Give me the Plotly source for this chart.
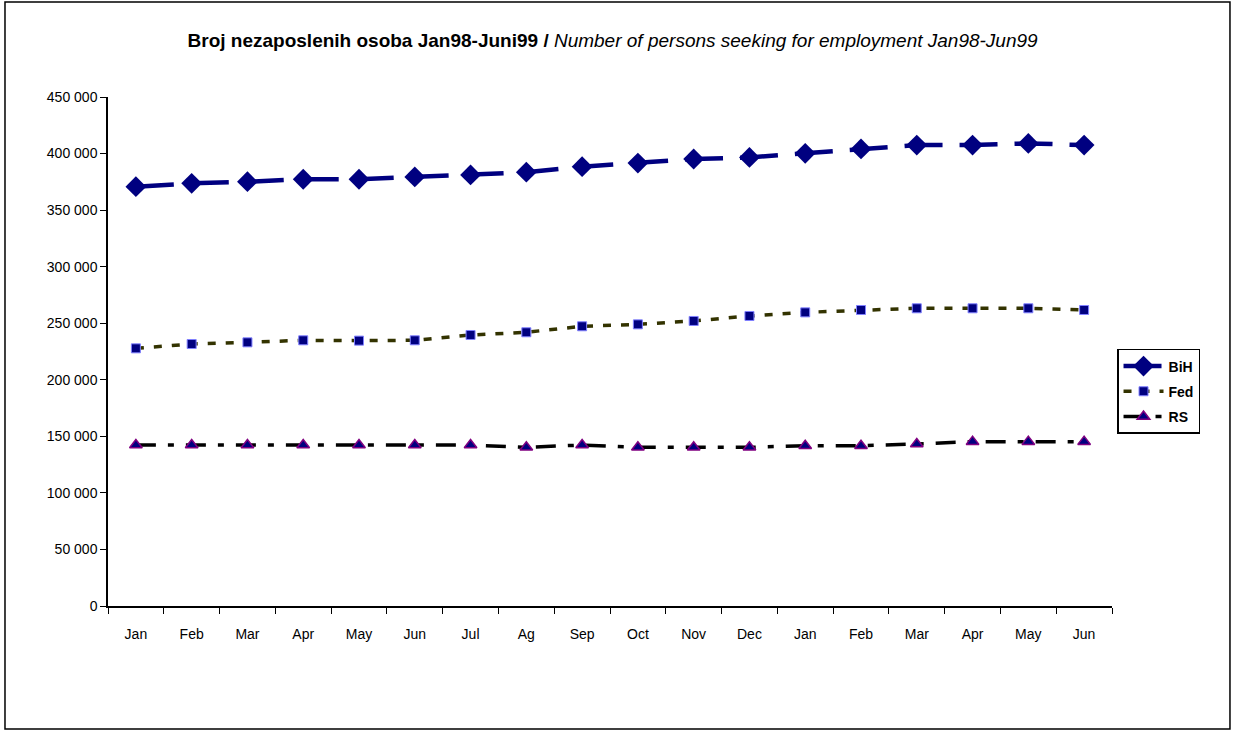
import plotly.graph_objects as go

months = ["Jan", "Feb", "Mar", "Apr", "May", "Jun", "Jul", "Ag", "Sep", "Oct", "Nov", "Dec",
          "Jan", "Feb", "Mar", "Apr", "May", "Jun"]
# unique category keys (two years share month names)
periods = [f"{m}_{i}" for i, m in enumerate(months)]

bih = [370700, 373700, 375100, 377300, 377300, 379300, 381100, 383500, 388400, 391600,
       395200, 396600, 400200, 404100, 407500, 407500, 409000, 407500]
fed = [227800, 231600, 233100, 234900, 234600, 234900, 239600, 242000, 247300, 249000,
       252000, 256400, 259600, 261700, 263200, 263200, 263200, 261700]
rs = [142300, 142300, 142300, 142300, 142300, 142300, 142300, 140300, 142300, 140300,
      140300, 140300, 141700, 141700, 143200, 145300, 145300, 145300]

y_ticks = [0, 50000, 100000, 150000, 200000, 250000, 300000, 350000, 400000, 450000]
y_tick_text = ["0", "50 000", "100 000", "150 000", "200 000", "250 000", "300 000",
               "350 000", "400 000", "450 000"]

fig = go.Figure()

fig.add_trace(go.Scatter(
    x=periods, y=bih, name="BiH", mode="lines+markers", legendgroup="bih",
    line=dict(color="#000080", width=4.5, dash="38px,17px"),
    marker=dict(symbol="diamond", size=16, color="#000080", line=dict(width=0)),
))
fig.add_trace(go.Scatter(
    x=periods, y=fed, name="Fed", mode="lines+markers", legendgroup="fed",
    line=dict(color="#333300", width=3.5, dash="8px,10px"),
    marker=dict(symbol="square", size=9, color="#000080", line=dict(color="#8080ff", width=1)),
))
fig.add_trace(go.Scatter(
    x=periods, y=rs, name="RS", mode="lines+markers", legendgroup="rs",
    line=dict(color="#000000", width=3.5, dash="20px,12px,6px,12px"),
    marker=dict(symbol="triangle-up", size=11, color="#000080", line=dict(color="#800080", width=1.5)),
))

fig.update_layout(
    width=1233, height=733,
    margin=dict(l=108, r=121, t=97, b=127),
    paper_bgcolor="white", plot_bgcolor="white",
    font=dict(family="Liberation Sans, Arial, sans-serif", color="black", size=13),
    title=dict(
        text="<b>Broj nezaposlenih osoba Jan98-Juni99 / </b><i>Number of persons seeking for employment Jan98-Jun99</i>",
        x=0.5026, xref="paper", xanchor="center", y=0.945, yanchor="middle",
        font=dict(size=19, color="black"),
    ),
    showlegend=True,
    legend=dict(
        x=1.005, xanchor="left", y=0.505, yanchor="top",
        bgcolor="white", bordercolor="black", borderwidth=1.5,
        font=dict(size=14, color="black", weight="bold"),
        itemwidth=40, traceorder="grouped", tracegroupgap=4,
    ),
    hovermode=False,
)

fig.update_xaxes(
    type="category", categoryorder="array", categoryarray=periods,
    tickvals=periods, ticktext=months, tickson="boundaries",
    ticks="outside", ticklen=6, tickwidth=1, tickcolor="black",
    showline=True, linecolor="black", linewidth=1.5,
    showgrid=False, zeroline=False, ticklabelstandoff=14,
    tickfont=dict(size=14), range=[-0.5, 17.5],
)
fig.update_yaxes(
    range=[0, 450000], tickvals=y_ticks, ticktext=y_tick_text,
    ticks="outside", ticklen=6, tickwidth=1, tickcolor="black",
    showline=True, linecolor="black", linewidth=1.5,
    showgrid=False, zeroline=False, tickfont=dict(size=14),
)

# outer chart frame
fig.add_shape(type="rect", xref="paper", yref="paper",
              x0=-0.1026, x1=1.1175, y0=-0.2416, y1=1.1866,
              line=dict(color="black", width=1.5), fillcolor="rgba(0,0,0,0)", layer="below")

fig.write_html("out.html")
